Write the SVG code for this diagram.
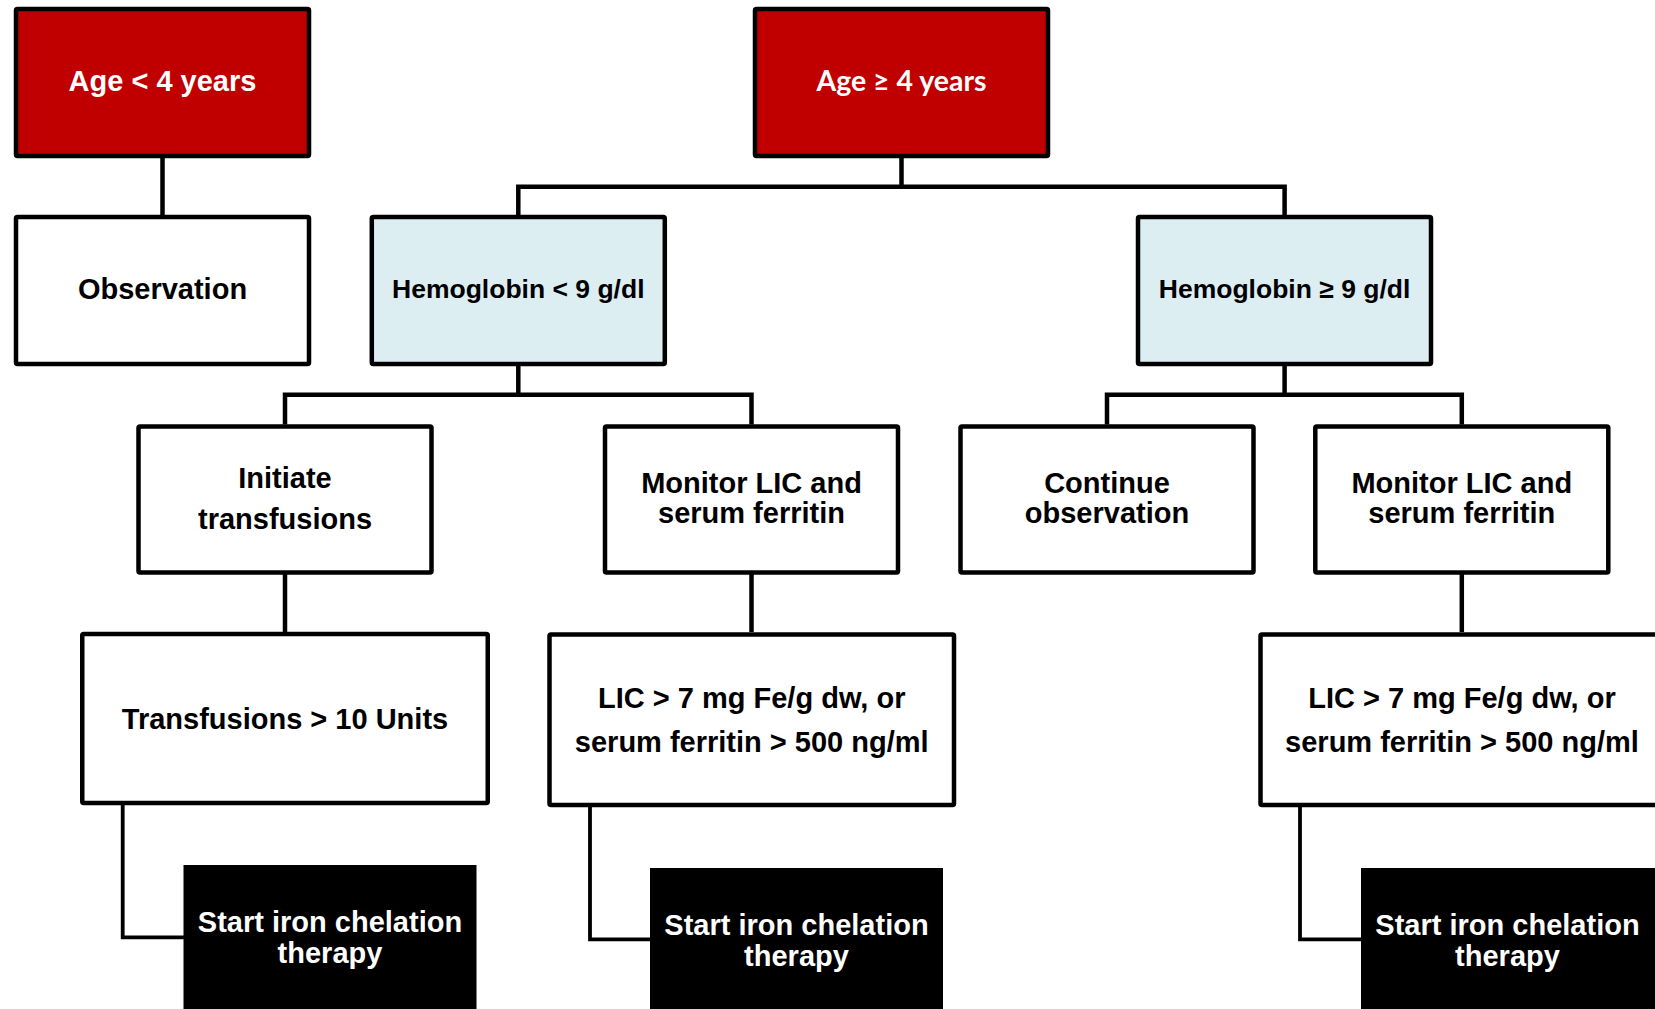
<svg xmlns="http://www.w3.org/2000/svg" width="1655" height="1009" viewBox="0 0 1655 1009">
<style>
.box{stroke:#000;stroke-width:4.5;stroke-linejoin:round}
.red{fill:#C00000}
.wht{fill:#fff}
.blu{fill:#DDEEF3}
.blk{fill:#000;stroke:none}
.t{font-family:"Liberation Sans",Arial,sans-serif;font-weight:bold;font-size:29px;text-anchor:middle;fill:#000}
.tw{fill:#fff}
.hg{font-size:26.5px}
.cal{font-family:Lato,"Open Sans",sans-serif;font-weight:bold;font-size:28px;text-anchor:middle;fill:#fff}
.con{fill:none;stroke:#000;stroke-width:4.5}
.con2{fill:none;stroke:#000;stroke-width:3.8}
</style>
<rect width="1655" height="1009" fill="#fff"/>
<g id="connectors">
<path class="con" d="M162.5 158V215"/>
<path class="con" d="M901.5 158V186.7"/>
<path class="con" d="M518.3 215V186.7H1284.6V215"/>
<path class="con" d="M518.3 366V394.8"/>
<path class="con" d="M285 424.5V394.8H751.5V424.5"/>
<path class="con" d="M1284.6 366V394.8"/>
<path class="con" d="M1107 424.5V394.8H1461.8V424.5"/>
<path class="con" d="M285 572.5V632"/>
<path class="con" d="M751.5 572.5V632"/>
<path class="con" d="M1461.8 572.5V632"/>
<path class="con2" d="M122.7 805V937.3H184"/>
<path class="con2" d="M590 807V939.4H651"/>
<path class="con2" d="M1300 807V939.4H1362"/>
</g>
<g id="age-lt4">
<rect class="box red" x="16" y="9" width="293" height="147" rx="1.5"/>
<text class="t tw" x="162.5" y="91">Age &lt; 4 years</text>
</g>
<g id="age-ge4">
<rect class="box red" x="755" y="9" width="293" height="147" rx="1.5"/>
<text class="cal" x="901.5" y="90.7" textLength="170" lengthAdjust="spacingAndGlyphs">Age ≥ 4 years</text>
</g>
<g id="observation">
<rect class="box wht" x="16" y="217" width="293" height="147" rx="1.5"/>
<text class="t" x="162.5" y="299">Observation</text>
</g>
<g id="hgb-lt9">
<rect class="box blu" x="371.8" y="217" width="293" height="147" rx="1.5"/>
<text class="t hg" x="518.3" y="297.7">Hemoglobin &lt; 9 g/dl</text>
</g>
<g id="hgb-ge9">
<rect class="box blu" x="1138" y="217" width="293" height="147" rx="1.5"/>
<text class="t hg" x="1284.6" y="298">Hemoglobin ≥ 9 g/dl</text>
</g>
<g id="initiate">
<rect class="box wht" x="138.5" y="426.5" width="293" height="146" rx="1.5"/>
<text class="t" x="285" y="488">Initiate</text>
<text class="t" x="285" y="529">transfusions</text>
</g>
<g id="monitor1">
<rect class="box wht" x="605" y="426.5" width="293" height="146" rx="1.5"/>
<text class="t" x="751.5" y="492.7">Monitor LIC and</text>
<text class="t" x="751.5" y="523.3">serum ferritin</text>
</g>
<g id="continue">
<rect class="box wht" x="960.5" y="426.5" width="293" height="146" rx="1.5"/>
<text class="t" x="1107" y="492.7">Continue</text>
<text class="t" x="1107" y="522.7">observation</text>
</g>
<g id="monitor2">
<rect class="box wht" x="1315.3" y="426.5" width="293" height="146" rx="1.5"/>
<text class="t" x="1461.8" y="492.7">Monitor LIC and</text>
<text class="t" x="1461.8" y="523.3">serum ferritin</text>
</g>
<g id="transfusions10">
<rect class="box wht" x="82.25" y="634" width="405.5" height="169" rx="1.5"/>
<text class="t" x="285" y="729">Transfusions &gt; 10 Units</text>
</g>
<g id="lic1">
<rect class="box wht" x="549.5" y="634.5" width="404.5" height="170.5" rx="1.5"/>
<text class="t" x="751.75" y="708.3">LIC &gt; 7 mg Fe/g dw, or</text>
<text class="t" x="751.75" y="751.7">serum ferritin &gt; 500 ng/ml</text>
</g>
<g id="lic2">
<rect class="box wht" x="1260.5" y="634.5" width="404.5" height="170.5" rx="1.5"/>
<text class="t" x="1462" y="708.3">LIC &gt; 7 mg Fe/g dw, or</text>
<text class="t" x="1462" y="751.7">serum ferritin &gt; 500 ng/ml</text>
</g>
<g id="chelation1">
<rect class="blk" x="183.5" y="865" width="293" height="160"/>
<text class="t tw" x="330" y="931.7">Start iron chelation</text>
<text class="t tw" x="330" y="963">therapy</text>
</g>
<g id="chelation2">
<rect class="blk" x="650" y="868" width="293" height="160"/>
<text class="t tw" x="796.5" y="934.5">Start iron chelation</text>
<text class="t tw" x="796.5" y="965.5">therapy</text>
</g>
<g id="chelation3">
<rect class="blk" x="1361" y="868" width="294" height="160"/>
<text class="t tw" x="1507.5" y="934.5">Start iron chelation</text>
<text class="t tw" x="1507.5" y="965.5">therapy</text>
</g>
</svg>
